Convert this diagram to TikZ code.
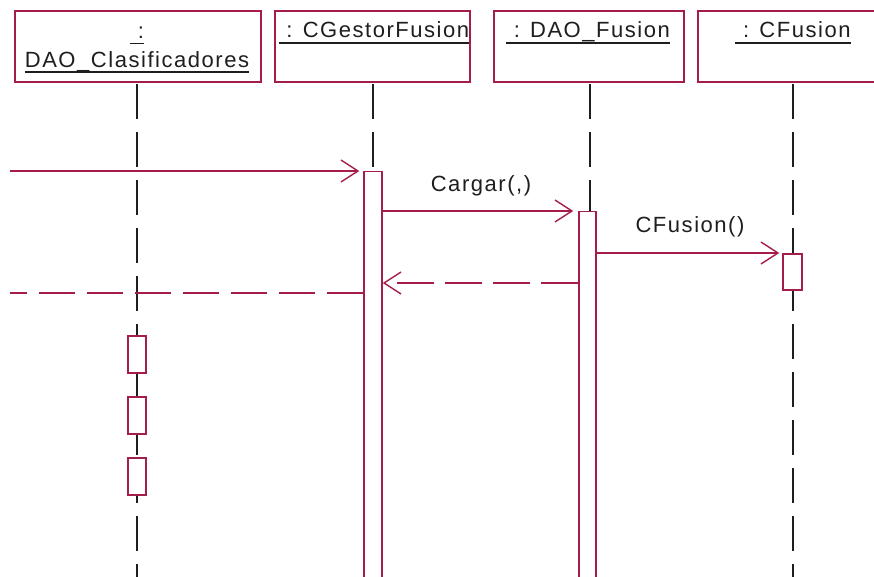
\documentclass[tikz,border=0pt]{standalone}
\usepackage{fontspec}
\setmainfont{Liberation Sans}[LetterSpace=7]
\usetikzlibrary{arrows.meta}
\definecolor{umlred}{RGB}{165,30,75}
\definecolor{ink}{RGB}{30,30,30}
\begin{document}
\begin{tikzpicture}[x=1pt,y=-1pt,
  objbox/.style={draw=umlred, line width=1.6pt, fill=white, rectangle,
    inner sep=0pt, anchor=north west, minimum height=71pt},
  objname/.style={inner sep=0pt, anchor=base, text=ink, font=\fontsize{22}{24}\selectfont},
  uline/.style={draw=ink, line width=1.8pt},
  lifeline/.style={draw=ink, line width=1.6pt, dash pattern=on 35pt off 13pt},
  actbox/.style={draw=umlred, line width=1.5pt, fill=white, rectangle,
    inner sep=0pt, anchor=north, minimum width=18pt},
  msg/.style={draw=umlred, line width=1.5pt, -{Straight Barb[length=17pt,width=22pt,line width=1.4pt]}},
  retmsg/.style={msg, dash pattern=on 37pt off 11pt},
  retline/.style={draw=umlred, line width=1.5pt, dash pattern=on 36pt off 12pt},
  msglabel/.style={inner sep=0pt, anchor=base, text=ink, font=\fontsize{22}{24}\selectfont}]

\useasboundingbox (0,0) rectangle (874,577);
\clip (0,0) rectangle (874,577);
\fill[white] (0,0) rectangle (874,577);

% object boxes
\node[objbox, minimum width=246pt] (objA) at (14,10) {};
\node[objbox, minimum width=195pt] (objB) at (274,10) {};
\node[objbox, minimum width=190pt] (objC) at (493,10) {};
\node[objbox, minimum width=200pt] (objD) at (697,10) {};

% object names
\node[objname] (nA1) at (137,39) {\ :\ };
\node[objname] (nA2) at (137,68) {DAO\_Clasificadores};
\node[objname] (nB) at (374,38) {\ : CGestorFusion};
\node[objname] (nC) at (588,38) {\ : DAO\_Fusion};
\node[objname] (nD) at (793,38) {\ : CFusion};
\draw[uline] ([yshift=-4.5pt]nA1.base west) -- ([yshift=-4.5pt]nA1.base east);
\draw[uline] ([yshift=-4pt]nA2.base west) -- ([yshift=-4pt]nA2.base east);
\draw[uline] ([yshift=-5pt]nB.base west) -- ([yshift=-5pt]nB.base east);
\draw[uline] ([yshift=-5pt]nC.base west) -- ([yshift=-5pt]nC.base east);
\draw[uline] ([yshift=-5pt]nD.base west) -- ([yshift=-5pt]nD.base east);

% lifelines
\coordinate (endA) at (137,600);
\coordinate (endB) at (373,600);
\coordinate (endC) at (590,600);
\coordinate (endD) at (793,600);
\draw[lifeline] (137,84) -- (endA);
\draw[lifeline] (373,84) -- (endB);
\draw[lifeline] (590,84) -- (endC);
\draw[lifeline] (793,84) -- (endD);

% activations
\node[actbox, minimum height=430pt] (actB) at (373,171) {};
\node[actbox, minimum width=17pt, minimum height=400pt] (actC) at (587.5,211) {};
\node[actbox, minimum width=19pt, minimum height=36pt] (actD) at (792.5,253) {};
\node[actbox, minimum height=37pt] (actA1) at (137,335) {};
\node[actbox, minimum height=37pt] (actA2) at (137,396) {};
\node[actbox, minimum height=37pt] (actA3) at (137,457) {};

% incoming call and its return
\coordinate (inStart) at (10,171);
\coordinate (outEnd) at (10,293);
\draw[msg, shorten >=4pt] (inStart) -- (actB.north west);
\draw[retline] (actB.west |- outEnd) -- (outEnd);

% messages
\draw[msg, shorten >=5pt] (actB.east |- actC.north) -- (actC.north west);
\node[msglabel] (lCargar) at (481,192) {Cargar(,)};
\draw[msg, shorten >=3pt] (actC.east |- actD.north) -- (actD.north west);
\node[msglabel] (lCFusion) at (690,232) {CFusion()};
\coordinate (retY) at (0,283);
\draw[retmsg] (actC.west |- retY) -- (actB.east |- retY);

\end{tikzpicture}
\end{document}
